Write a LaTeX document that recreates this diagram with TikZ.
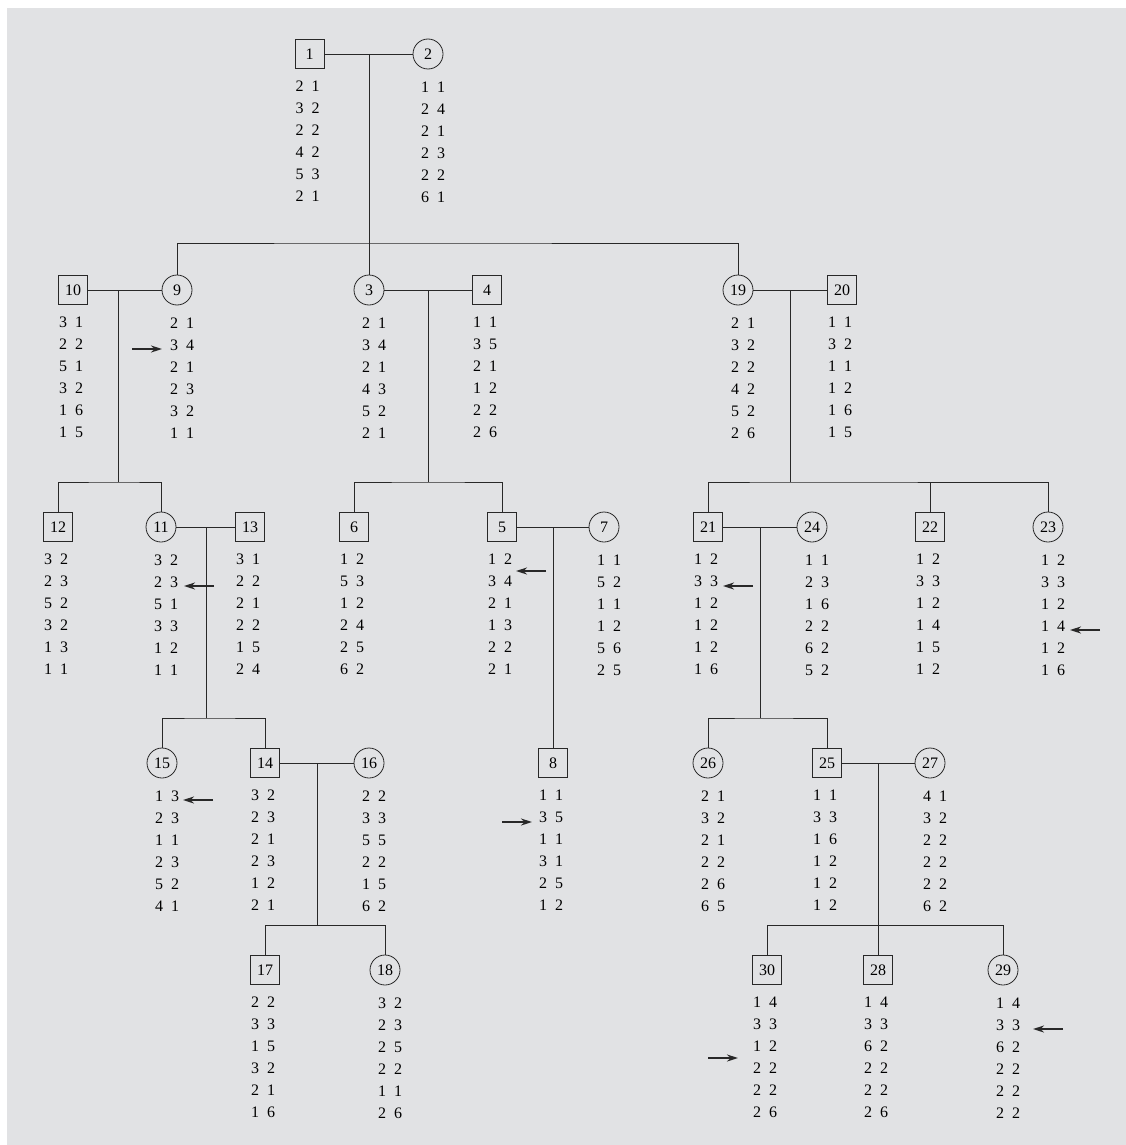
\documentclass[tikz,border=0pt]{standalone}
\usepackage{fontspec}
\setmainfont{Liberation Serif}
\usetikzlibrary{arrows.meta,positioning}
\definecolor{PanelGray}{RGB}{225,226,228}
\definecolor{InkGray}{RGB}{40,40,40}
\newcommand{\pr}[2]{#1\hspace{0.5em}#2}
\tikzset{
  male/.style={draw=InkGray,rectangle,minimum size=29pt,inner sep=0pt,
    line width=0.8pt,font=\fontsize{16}{19}\selectfont},
  female/.style={draw=InkGray,circle,minimum size=30pt,inner sep=0pt,
    line width=0.8pt,font=\fontsize{16}{19}\selectfont},
  mgeno/.style={below=12pt of #1,xshift=-2pt,inner sep=0pt,align=center,
    font=\fontsize{16}{22}\selectfont},
  fgeno/.style={below=12pt of #1,xshift=5pt,inner sep=0pt,align=center,
    font=\fontsize{16}{22}\selectfont},
  link/.style={draw=InkGray,line width=0.8pt},
  flag/.style={-{Stealth[length=11pt,width=7pt]},line width=1.8pt,InkGray}
}

\begin{document}
\begin{tikzpicture}[x=1pt,y=-1pt]
  \useasboundingbox (0,0) rectangle (1126,1145);
  \fill[PanelGray] (7,8) rectangle (1126,1145);

  % generation I
  \node[male] (n1) at (309.5,54) {1};
  \node[female] (n2) at (428,54) {2};
  \node[mgeno=n1] (g1) {\pr21\\\pr32\\\pr22\\\pr42\\\pr53\\\pr21};
  \node[fgeno=n2] (g2) {\pr11\\\pr24\\\pr21\\\pr23\\\pr22\\\pr61};

  % generation II
  \node[male] (n10) at (73,290) {10};
  \node[female] (n9) at (177,290) {9};
  \node[female] (n3) at (369,290) {3};
  \node[male] (n4) at (487,290) {4};
  \node[female] (n19) at (738,290) {19};
  \node[male] (n20) at (842,290) {20};
  \node[mgeno=n10] (g10) {\pr31\\\pr22\\\pr51\\\pr32\\\pr16\\\pr15};
  \node[fgeno=n9] (g9) {\pr21\\\pr34\\\pr21\\\pr23\\\pr32\\\pr11};
  \node[fgeno=n3] (g3) {\pr21\\\pr34\\\pr21\\\pr43\\\pr52\\\pr21};
  \node[mgeno=n4] (g4) {\pr11\\\pr35\\\pr21\\\pr12\\\pr22\\\pr26};
  \node[fgeno=n19] (g19) {\pr21\\\pr32\\\pr22\\\pr42\\\pr52\\\pr26};
  \node[mgeno=n20] (g20) {\pr11\\\pr32\\\pr11\\\pr12\\\pr16\\\pr15};

  % generation III
  \node[male] (n12) at (58,527) {12};
  \node[female] (n11) at (161,527) {11};
  \node[male] (n13) at (250,527) {13};
  \node[male] (n6) at (354,527) {6};
  \node[male] (n5) at (502,527) {5};
  \node[female] (n7) at (604,527) {7};
  \node[male] (n21) at (708,527) {21};
  \node[female] (n24) at (812,527) {24};
  \node[male] (n22) at (930,527) {22};
  \node[female] (n23) at (1048,527) {23};
  \node[mgeno=n12] (g12) {\pr32\\\pr23\\\pr52\\\pr32\\\pr13\\\pr11};
  \node[fgeno=n11] (g11) {\pr32\\\pr23\\\pr51\\\pr33\\\pr12\\\pr11};
  \node[mgeno=n13] (g13) {\pr31\\\pr22\\\pr21\\\pr22\\\pr15\\\pr24};
  \node[mgeno=n6] (g6) {\pr12\\\pr53\\\pr12\\\pr24\\\pr25\\\pr62};
  \node[mgeno=n5] (g5) {\pr12\\\pr34\\\pr21\\\pr13\\\pr22\\\pr21};
  \node[fgeno=n7] (g7) {\pr11\\\pr52\\\pr11\\\pr12\\\pr56\\\pr25};
  \node[mgeno=n21] (g21) {\pr12\\\pr33\\\pr12\\\pr12\\\pr12\\\pr16};
  \node[fgeno=n24] (g24) {\pr11\\\pr23\\\pr16\\\pr22\\\pr62\\\pr52};
  \node[mgeno=n22] (g22) {\pr12\\\pr33\\\pr12\\\pr14\\\pr15\\\pr12};
  \node[fgeno=n23] (g23) {\pr12\\\pr33\\\pr12\\\pr14\\\pr12\\\pr16};

  % generation IV
  \node[female] (n15) at (162,763) {15};
  \node[male] (n14) at (265,763) {14};
  \node[female] (n16) at (369,763) {16};
  \node[male] (n8) at (553,763) {8};
  \node[female] (n26) at (708,763) {26};
  \node[male] (n25) at (827,763) {25};
  \node[female] (n27) at (930,763) {27};
  \node[fgeno=n15] (g15) {\pr13\\\pr23\\\pr11\\\pr23\\\pr52\\\pr41};
  \node[mgeno=n14] (g14) {\pr32\\\pr23\\\pr21\\\pr23\\\pr12\\\pr21};
  \node[fgeno=n16] (g16) {\pr22\\\pr33\\\pr55\\\pr22\\\pr15\\\pr62};
  \node[mgeno=n8] (g8) {\pr11\\\pr35\\\pr11\\\pr31\\\pr25\\\pr12};
  \node[fgeno=n26] (g26) {\pr21\\\pr32\\\pr21\\\pr22\\\pr26\\\pr65};
  \node[mgeno=n25] (g25) {\pr11\\\pr33\\\pr16\\\pr12\\\pr12\\\pr12};
  \node[fgeno=n27] (g27) {\pr41\\\pr32\\\pr22\\\pr22\\\pr22\\\pr62};

  % generation V
  \node[male] (n17) at (265,970) {17};
  \node[female] (n18) at (385,970) {18};
  \node[male] (n30) at (767,970) {30};
  \node[male] (n28) at (878,970) {28};
  \node[female] (n29) at (1003,970) {29};
  \node[mgeno=n17] (g17) {\pr22\\\pr33\\\pr15\\\pr32\\\pr21\\\pr16};
  \node[fgeno=n18] (g18) {\pr32\\\pr23\\\pr25\\\pr22\\\pr11\\\pr26};
  \node[mgeno=n30] (g30) {\pr14\\\pr33\\\pr12\\\pr22\\\pr22\\\pr26};
  \node[mgeno=n28] (g28) {\pr14\\\pr33\\\pr62\\\pr22\\\pr22\\\pr26};
  \node[fgeno=n29] (g29) {\pr14\\\pr33\\\pr62\\\pr22\\\pr22\\\pr22};

  % marriages and descent
  \coordinate (j1) at (369,54);
  \coordinate (s1) at (369,243);
  \draw[link] (n1) -- (n2);
  \draw[link] (j1) -- (n3);
  \draw[link] (n9) |- (s1) -| (n19);

  \coordinate (j10) at (118,290);
  \coordinate (s10) at (118,482);
  \draw[link] (n10) -- (n9);
  \draw[link] (j10) -- (s10);
  \draw[link] (n12) |- (s10) -| (n11);

  \coordinate (j3) at (428,290);
  \coordinate (s3) at (428,482);
  \draw[link] (n3) -- (n4);
  \draw[link] (j3) -- (s3);
  \draw[link] (n6) |- (s3) -| (n5);

  \coordinate (j19) at (790,290);
  \coordinate (s19) at (790,482);
  \draw[link] (n19) -- (n20);
  \draw[link] (j19) -- (s19);
  \draw[link] (n21) |- (s19) -| (n23);
  \draw[link] (n22) -- (n22 |- s19);

  \coordinate (j11) at (206,527);
  \coordinate (s11) at (206,718);
  \draw[link] (n11) -- (n13);
  \draw[link] (j11) -- (s11);
  \draw[link] (n15) |- (s11) -| (n14);

  \coordinate (j5) at (553,527);
  \draw[link] (n5) -- (n7);
  \draw[link] (j5) -- (n8);

  \coordinate (j21) at (760,527);
  \coordinate (s21) at (760,718);
  \draw[link] (n21) -- (n24);
  \draw[link] (j21) -- (s21);
  \draw[link] (n26) |- (s21) -| (n25);

  \coordinate (j14) at (317,763);
  \coordinate (s14) at (317,925);
  \draw[link] (n14) -- (n16);
  \draw[link] (j14) -- (s14);
  \draw[link] (n17) |- (s14) -| (n18);

  \coordinate (j25) at (878,763);
  \coordinate (s25) at (878,925);
  \draw[link] (n25) -- (n27);
  \draw[link] (j25) -- (n28);
  \draw[link] (n30) |- (s25) -| (n29);

  % marker arrows
  \coordinate (t9) at (132,349);   \coordinate (h9) at (162,349);
  \coordinate (t11) at (214,586);  \coordinate (h11) at (184,586);
  \coordinate (t5) at (546,571);   \coordinate (h5) at (516,571);
  \coordinate (t21) at (753,586);  \coordinate (h21) at (723,586);
  \coordinate (t23) at (1100,630); \coordinate (h23) at (1070,630);
  \coordinate (t15) at (213,800);  \coordinate (h15) at (183,800);
  \coordinate (t8) at (502,822);   \coordinate (h8) at (532,822);
  \coordinate (t30) at (708,1058); \coordinate (h30) at (738,1058);
  \coordinate (t29) at (1063,1029);\coordinate (h29) at (1033,1029);
  \foreach \k in {9,11,5,21,23,15,8,30,29}
    \draw[flag] (t\k) -- (h\k);
\end{tikzpicture}
\end{document}
